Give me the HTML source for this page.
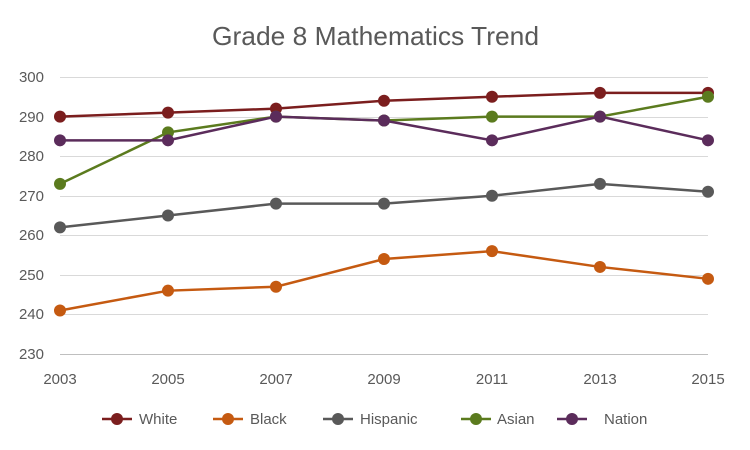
<!DOCTYPE html>
<html><head><meta charset="utf-8"><style>
body{margin:0;background:#fff;}
svg{display:block;font-family:"Liberation Sans",sans-serif;}
</style></head><body>
<svg width="750" height="450" xmlns="http://www.w3.org/2000/svg">
<rect width="750" height="450" fill="#fff"/>
<text x="212" y="45" font-size="26" fill="#595959" textLength="327" lengthAdjust="spacingAndGlyphs">Grade 8 Mathematics Trend</text>
<g stroke="#d9d9d9" stroke-width="1">
<line x1="60" x2="708" y1="77.5" y2="77.5"/>
<line x1="60" x2="708" y1="117.5" y2="117.5"/>
<line x1="60" x2="708" y1="156.5" y2="156.5"/>
<line x1="60" x2="708" y1="196.5" y2="196.5"/>
<line x1="60" x2="708" y1="235.5" y2="235.5"/>
<line x1="60" x2="708" y1="275.5" y2="275.5"/>
<line x1="60" x2="708" y1="314.5" y2="314.5"/>
</g>
<line x1="60" x2="708" y1="354.5" y2="354.5" stroke="#bfbfbf"/>
<g font-size="15" fill="#595959" text-anchor="end">
<text x="44" y="82">300</text><text x="44" y="122">290</text><text x="44" y="161">280</text>
<text x="44" y="201">270</text><text x="44" y="240">260</text><text x="44" y="280">250</text>
<text x="44" y="319">240</text><text x="44" y="359">230</text>
</g>
<g font-size="15" fill="#595959" text-anchor="middle">
<text x="60" y="384">2003</text><text x="168" y="384">2005</text><text x="276" y="384">2007</text>
<text x="384" y="384">2009</text><text x="492" y="384">2011</text><text x="600" y="384">2013</text>
<text x="708" y="384">2015</text>
</g>
<g id="series" stroke-width="2.5" fill="none"></g>
<g font-size="15" fill="#595959">
<line x1="102" x2="132" y1="419" y2="419" stroke="#7B1E1E" stroke-width="2.5"/><circle cx="117" cy="419" r="6" fill="#7B1E1E"/><text x="139" y="424">White</text>
<line x1="213" x2="243" y1="419" y2="419" stroke="#C55A11" stroke-width="2.5"/><circle cx="228" cy="419" r="6" fill="#C55A11"/><text x="250" y="424">Black</text>
<line x1="323" x2="353" y1="419" y2="419" stroke="#595959" stroke-width="2.5"/><circle cx="338" cy="419" r="6" fill="#595959"/><text x="360" y="424">Hispanic</text>
<line x1="461" x2="491" y1="419" y2="419" stroke="#5B7B1E" stroke-width="2.5"/><circle cx="476" cy="419" r="6" fill="#5B7B1E"/><text x="497" y="424">Asian</text>
<line x1="557" x2="587" y1="419" y2="419" stroke="#5B2C5B" stroke-width="2.5"/><circle cx="572" cy="419" r="6" fill="#5B2C5B"/><text x="604" y="424">Nation</text>
</g>
<script>
var S=[["#7B1E1E",[290,291,292,294,295,296,296]],["#C55A11",[241,246,247,254,256,252,249]],["#595959",[262,265,268,268,270,273,271]],["#5B7B1E",[273,286,290,289,290,290,295]],["#5B2C5B",[284,284,290,289,284,290,284]]];
var g=document.getElementById("series"),ns="http://www.w3.org/2000/svg";
S.forEach(function(s){var pts=s[1].map(function(v,i){return [60+108*i,354-(v-230)*(277/70)];});
var p=document.createElementNS(ns,"polyline");p.setAttribute("points",pts.map(function(a){return a.join(",")}).join(" "));p.setAttribute("stroke",s[0]);g.appendChild(p);
pts.forEach(function(a){var c=document.createElementNS(ns,"circle");c.setAttribute("cx",a[0]);c.setAttribute("cy",a[1]);c.setAttribute("r",6);c.setAttribute("fill",s[0]);c.setAttribute("stroke","none");g.appendChild(c);});});
</script>
</svg>
</body></html>
